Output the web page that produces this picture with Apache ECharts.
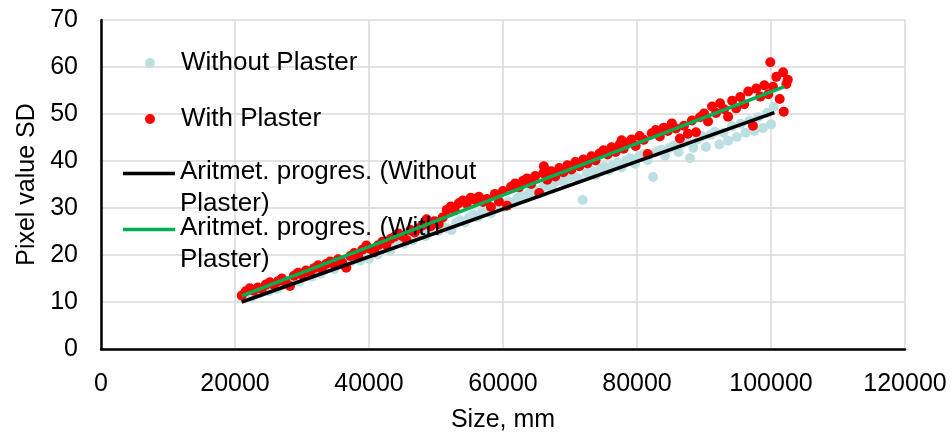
<!DOCTYPE html>
<html>
<head>
<meta charset="utf-8">
<script src="https://cdn.jsdelivr.net/npm/echarts@6/dist/echarts.min.js"></script>
<style>
html,body{margin:0;padding:0;background:#fff;}
#chart{width:952px;height:438px;}
</style>
</head>
<body>
<div id="chart"></div>
<script>
// ---- Data ----
const seriesNames = ['Without Plaster', 'With Plaster', 'Aritmet. progres. (Without Plaster)', 'Aritmet. progres. (With Plaster)'];
const legendLabels = ['Without Plaster', 'With Plaster', 'Aritmet. progres. (Without\nPlaster)', 'Aritmet. progres. (With\nPlaster)'];

const withoutX = [21200,21800,22500,23100,23800,24400,25000,25700,26300,27000,27600,28300,28900,29600,30200,30900,31500,32200,32800,33500,34100,34800,35400,36100,36700,37400,38000,38700,39300,40000,40600,41300,41900,42600,43200,43900,44500,45200,45800,46500,47100,47800,48400,49100,49700,50400,51000,51700,52300,53000,53600,54300,54900,55600,56200,56900,57500,58200,58800,59500,60100,60800,61400,62100,62700,63400,64000,64700,65300,66000,66600,67300,67900,68600,69200,69900,70500,71200,71900,72500,73200,73800,74500,75100,75800,76400,77100,77700,78400,79000,79700,80300,81000,81600,82400,82900,83600,84200,84900,85500,86200,86800,87500,87900,88400,89000,89700,90300,91000,91600,92300,92900,93600,94200,94900,95500,96200,96800,97500,98100,98800,99400,100000,100400];
const withoutY = [10.8,11.2,11.0,12.0,11.9,12.6,12.3,13.1,12.8,13.6,13.9,13.7,14.6,14.3,15.2,15.6,15.4,16.3,16.0,16.9,17.3,17.0,17.9,18.4,17.6,18.7,19.3,18.8,19.9,19.2,20.5,20.1,21.2,21.6,21.0,22.3,22.9,22.4,23.5,23.1,24.2,24.6,24.0,25.2,25.8,25.1,26.1,25.7,25.3,26.8,27.4,26.9,27.9,28.6,28.1,29.2,29.8,28.9,30.1,30.7,30.2,31.4,31.0,32.0,32.7,32.2,33.3,33.9,33.1,34.4,35.0,34.2,35.6,36.1,35.3,36.5,36.9,36.2,31.7,37.4,37.9,37.0,38.3,38.8,38.0,39.2,39.7,38.6,40.1,40.6,39.4,41.0,41.5,40.2,36.6,41.9,42.4,41.1,42.8,43.3,41.9,43.7,44.1,40.6,42.8,44.6,45.3,43.0,45.6,46.2,43.5,46.0,44.3,47.4,45.1,47.9,46.0,48.6,46.4,49.3,47.0,50.2,47.8,51.5];

const withX = [21000,21600,22200,22800,23400,24000,24600,25200,25800,26400,27000,27600,28200,28800,29400,30000,30600,31200,31800,32400,33000,33600,34200,34800,35400,36000,36600,37200,37800,38400,39000,39600,40200,40800,41400,42000,42600,43200,43800,44400,45000,45600,46200,46800,47400,48000,48600,49200,49800,50400,51000,51600,52200,52800,53400,54000,54600,55200,55800,56400,57000,57600,58200,58800,59400,60000,60600,61200,61800,62400,63000,63600,64200,64800,65400,66000,66100,66600,67200,67800,68400,69000,69600,70200,70800,71400,72000,72600,73200,73800,74400,75000,75600,76200,76800,77400,77700,78000,78600,79200,79800,80400,81000,81600,82200,82800,83400,84000,84600,85200,85800,86400,87000,87600,88200,88800,89400,90000,90600,91200,91800,92400,93000,93600,94200,94800,95400,96000,96600,97300,97800,98400,99000,99600,99900,100300,100800,101300,101800,101900,102300,102500];
const withY = [11.4,12.3,12.9,12.4,13.1,12.8,13.7,14.2,13.6,14.4,15.0,14.1,13.4,15.6,16.2,15.8,16.7,16.3,17.2,17.8,17.0,18.1,18.6,18.0,19.1,18.4,17.3,19.8,20.4,19.6,21.1,22.0,21.3,20.6,22.1,22.8,22.2,23.4,23.9,24.6,24.0,23.2,25.3,24.8,25.7,26.3,27.6,26.1,27.2,26.6,28.0,29.6,30.3,29.5,31.0,31.6,30.9,32.2,31.7,32.4,31.3,31.9,30.2,33.0,31.4,33.6,30.5,34.5,35.2,34.4,35.8,36.3,35.1,36.8,33.2,37.4,38.9,36.0,37.8,36.7,38.5,37.6,39.1,38.2,39.8,38.9,40.3,39.5,41.0,40.1,41.6,42.3,41.4,42.9,41.9,43.5,44.4,42.6,43.9,44.6,43.2,45.3,44.5,41.5,45.9,46.6,45.2,47.1,46.4,48.0,46.9,44.8,47.5,45.8,48.6,46.1,49.3,50.1,48.4,51.6,50.2,52.3,51.0,49.4,52.8,51.2,53.6,52.1,54.8,47.5,55.4,53.7,56.1,54.2,61.0,55.8,57.9,53.2,58.9,50.5,56.4,57.3];

const trendWithoutX = [21000, 100500];
const trendWithoutY = [10.0, 50.3];
const trendWithX = [21000, 102000];
const trendWithY = [11.3, 55.8];

const xTicks = [0, 20000, 40000, 60000, 80000, 100000, 120000];
const yTicks = [0, 10, 20, 30, 40, 50, 60, 70];

// ---- Build ----
function pairs(xs, ys) { return xs.map((x, i) => [x, ys[i]]); }

const FONT = 'Liberation Sans, Arial, sans-serif';
const colors = { without: '#BBDFE3', withP: '#FF0000', lineWithout: '#000000', lineWith: '#00B050' };
const lineIcon = 'path://M0,0H52V3.5H0Z M0,32.5H0.01V32.5Z';

const chart = echarts.init(document.getElementById('chart'), null, { renderer: 'canvas' });
chart.setOption({
  animation: false,
  backgroundColor: '#fff',
  grid: { left: 101, right: 47, top: 20, bottom: 85, containLabel: false },
  xAxis: {
    type: 'value', min: xTicks[0], max: xTicks[xTicks.length - 1], interval: 20000,
    name: 'Size, mm', nameLocation: 'middle', nameGap: 59,
    nameTextStyle: { fontFamily: FONT, fontSize: 25, color: '#000' },
    axisLine: { show: true, lineStyle: { color: '#000', width: 2.5 } },
    axisTick: { show: false },
    axisLabel: { fontFamily: FONT, fontSize: 25, color: '#000', margin: 23, formatter: v => String(v) },
    splitLine: { show: true, lineStyle: { color: '#D9D9D9', width: 1.5 } }
  },
  yAxis: {
    type: 'value', min: yTicks[0], max: yTicks[yTicks.length - 1], interval: 10,
    name: 'Pixel value SD', nameLocation: 'middle', nameGap: 58,
    nameTextStyle: { fontFamily: FONT, fontSize: 25, color: '#000' },
    axisLine: { show: true, lineStyle: { color: '#000', width: 2.5 } },
    axisTick: { show: false },
    axisLabel: { fontFamily: FONT, fontSize: 25, color: '#000', margin: 23, formatter: v => String(v) },
    splitLine: { show: true, lineStyle: { color: '#D9D9D9', width: 1.5 } }
  },
  legend: [
    {
      orient: 'vertical', left: 140, top: 45, itemWidth: 52, itemHeight: 10, itemGap: 30,
      textStyle: { fontFamily: FONT, fontSize: 26, color: '#000', lineHeight: 25 },
      formatter: n => legendLabels[seriesNames.indexOf(n)],
      data: [
        { name: seriesNames[0], icon: 'circle', itemStyle: { color: colors.without } },
        { name: seriesNames[1], icon: 'circle', itemStyle: { color: colors.withP } }
      ]
    },
    {
      orient: 'vertical', left: 118, top: 151, itemWidth: 52, itemHeight: 32.5, itemGap: -8,
      textStyle: { fontFamily: FONT, fontSize: 26, color: '#000', lineHeight: 32 },
      formatter: n => legendLabels[seriesNames.indexOf(n)],
      data: [
        { name: seriesNames[2], icon: lineIcon, itemStyle: { color: colors.lineWithout, borderWidth: 0 } },
        { name: seriesNames[3], icon: lineIcon, itemStyle: { color: colors.lineWith, borderWidth: 0 } }
      ]
    }
  ],
  series: [
    { name: seriesNames[0], type: 'scatter', symbol: 'circle', symbolSize: 10,
      itemStyle: { color: colors.without, opacity: 1 }, data: pairs(withoutX, withoutY), z: 2 },
    { name: seriesNames[1], type: 'scatter', symbol: 'circle', symbolSize: 10,
      itemStyle: { color: colors.withP, opacity: 1 }, data: pairs(withX, withY), z: 3 },
    { name: seriesNames[2], type: 'line', showSymbol: false, symbol: 'none',
      color: colors.lineWithout, lineStyle: { color: colors.lineWithout, width: 3.5 },
      data: pairs(trendWithoutX, trendWithoutY), z: 4 },
    { name: seriesNames[3], type: 'line', showSymbol: false, symbol: 'none',
      color: colors.lineWith, lineStyle: { color: colors.lineWith, width: 3.5 },
      data: pairs(trendWithX, trendWithY), z: 5 }
  ]
});
</script>
</body>
</html>
